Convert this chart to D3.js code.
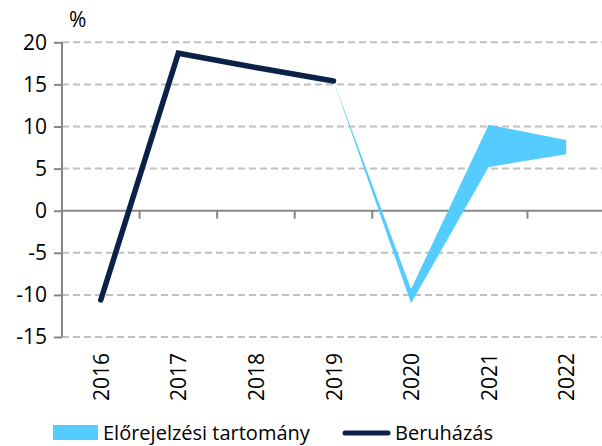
<!DOCTYPE html>
<html><head><meta charset="utf-8">
<script src="https://cdn.jsdelivr.net/npm/d3@7"></script>
<style>body{margin:0;background:#fff}svg{display:block}text{font-family:"Open Sans",sans-serif;fill:#000}</style>
</head><body>
<script>
const categories = ["2016","2017","2018","2019","2020","2021","2022"];
const investment = [-10.6, 18.7, 17.0, 15.4, null, null, null];
const rangeYears = ["2019","2020","2021","2022"];
const rangeLow = [15.4, -11.0, 5.2, 6.7];
const rangeHigh = [15.4, -9.3, 10.2, 8.4];
const yTicks = [20,15,10,5,0,-5,-10,-15];

const W=602,H=446;
const svg=d3.select("body").append("svg").attr("width",W).attr("height",H);
const x=d3.scaleBand().domain(categories).range([62,605]);
const y=d3.scaleLinear().domain([-15,20]).range([337,42.3]);
const cx=d=>x(d)+x.bandwidth()/2;

// gridlines
svg.append("g").selectAll("line").data(yTicks.filter(v=>v!==0)).join("line")
 .attr("x1",62).attr("x2",W).attr("y1",d=>y(d)).attr("y2",d=>y(d))
 .attr("stroke","#c0c0c0").attr("stroke-width",2).attr("stroke-dasharray","7,4");

// y axis
const ya=svg.append("g").attr("transform","translate(62,0)").call(d3.axisLeft(y).tickValues(yTicks).tickSize(8).tickPadding(7).tickFormat(d3.format("d")));
ya.select(".domain").attr("stroke","#868686").attr("stroke-width",2).attr("d","M0,"+y(20)+"V"+y(-15));
ya.selectAll(".tick line").attr("stroke","#868686").attr("stroke-width",2);
ya.selectAll(".tick text").style("font-size","21px").attr("fill","#000").text(d=>d<0?"-"+Math.abs(d):d);

// x axis at zero
const xa=svg.append("g").attr("transform","translate(0,"+y(0)+")");
xa.append("line").attr("x1",62).attr("x2",W).attr("stroke","#868686").attr("stroke-width",2);
xa.selectAll("line.t").data(categories.slice(1)).join("line").attr("class","t")
 .attr("x1",d=>x(d)).attr("x2",d=>x(d)).attr("y1",0).attr("y2",8)
 .attr("stroke","#868686").attr("stroke-width",2);

// x labels
svg.append("g").selectAll("text").data(categories).join("text")
 .attr("transform",d=>"translate("+(cx(d)+8)+",353) rotate(-90)")
 .attr("text-anchor","end").style("font-size","21px").text(d=>d);

// range area
const rd=rangeYears.map((d,i)=>({x:d,lo:rangeLow[i],hi:rangeHigh[i]}));
svg.append("path").datum(rd)
 .attr("d",d3.area().x(d=>cx(d.x)).y0(d=>y(d.lo)).y1(d=>y(d.hi)))
 .attr("fill","#55ccff");

// line
const ld=categories.map((d,i)=>({x:d,v:investment[i]})).filter(d=>d.v!==null);
svg.append("path").datum(ld)
 .attr("d",d3.line().x(d=>cx(d.x)).y(d=>y(d.v)))
 .attr("fill","none").attr("stroke","#0b2148").attr("stroke-width",5.5)
 .attr("stroke-linecap","round").attr("stroke-linejoin","miter");

// % label
svg.append("text").attr("x",69).attr("y",27).style("font-size","21px").text("%");

// legend
const lg=svg.append("g");
lg.append("rect").attr("x",53).attr("y",425).attr("width",45).attr("height",15).attr("fill","#55ccff");
lg.append("text").attr("x",103).attr("y",440).style("font-size","20px").text("Előrejelzési tartomány");
lg.append("line").attr("x1",345).attr("x2",388).attr("y1",433).attr("y2",433)
 .attr("stroke","#0b2148").attr("stroke-width",5).attr("stroke-linecap","round");
lg.append("text").attr("x",395).attr("y",440).style("font-size","20px").text("Beruházás");
</script>
</body></html>
